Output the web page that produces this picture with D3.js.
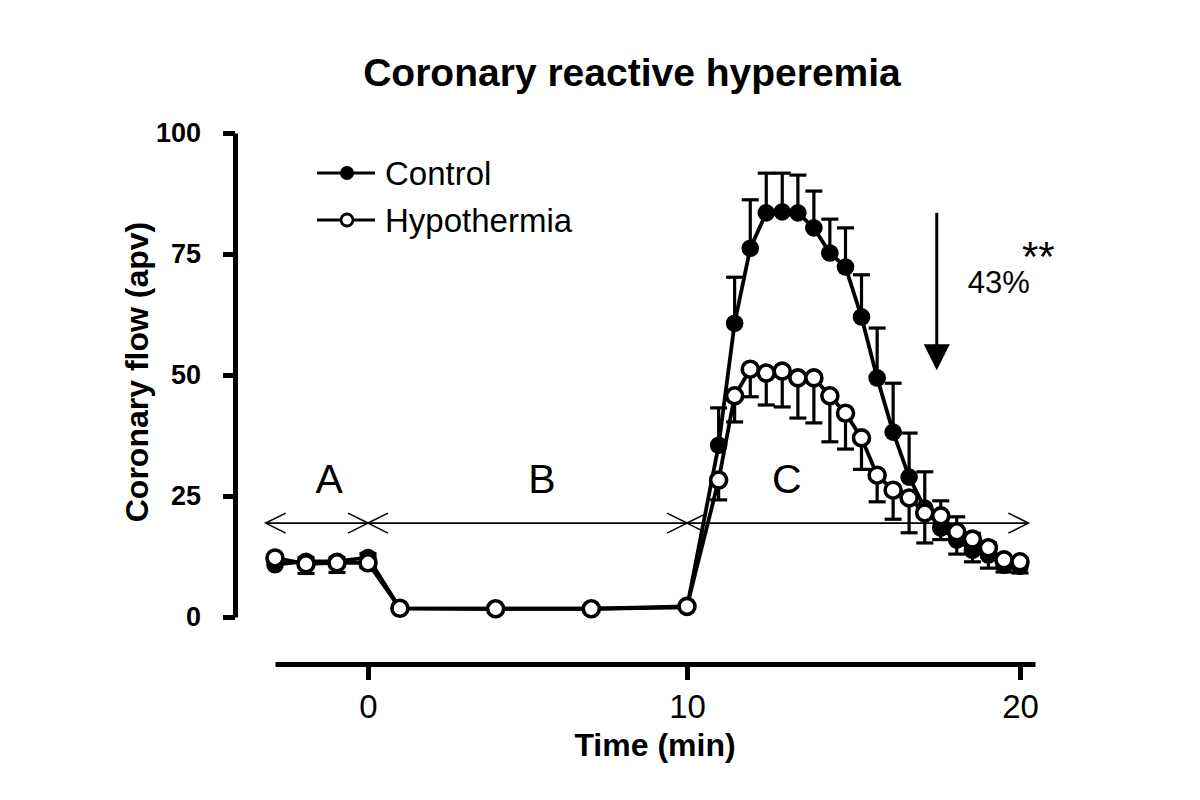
<!DOCTYPE html>
<html>
<head>
<meta charset="utf-8">
<script src="https://cdnjs.cloudflare.com/ajax/libs/d3/7.8.5/d3.min.js"></script>
<style>
  body { margin: 0; background: #fff; }
  svg { display: block; }
  .sans { font-family: 'Liberation Sans', Arial, sans-serif; }
  .narrow { font-family: 'Liberation Sans Narrow', 'Arial Narrow', 'Liberation Sans', sans-serif; font-stretch: condensed; }
</style>
</head>
<body>
<div id="chart"></div>
<script>
// time points (min): baseline, ischemia, reperfusion
const times = [-3, -2, -1, 0, 1, 4, 7, 10,
  10.95, 11.43, 11.90, 12.38, 12.86, 13.33, 13.81, 14.29, 14.76, 15.24,
  15.71, 16.19, 16.67, 17.14, 17.62, 18.10, 18.57, 19.05, 19.52, 20.00];

// coronary flow (apv), mean and SEM
const controlMean = [10.8, 11.5, 11.5, 12.3, 1.8, 1.7, 1.7, 2.0,
  35.5, 60.7, 76.2, 83.5, 83.7, 83.5, 80.4, 75.2, 72.3, 62.0,
  49.4, 38.2, 28.9, 22.5, 18.4, 15.9, 13.8, 12.8, 10.7, 10.5];
const controlSem = [0.8, 0.8, 0.8, 0.8, 0.3, 0.3, 0.3, 0.5,
  7.7, 9.5, 10.0, 8.2, 8.0, 7.8, 7.6, 7.0, 8.1, 8.7,
  10.3, 10.1, 9.1, 7.5, 5.6, 4.8, 3.5, 2.5, 1.5, 1.5];
const hypoMean = [12.2, 11.0, 11.2, 11.2, 1.8, 1.7, 1.7, 2.2,
  28.3, 45.7, 51.2, 50.4, 50.8, 49.4, 49.4, 45.7, 42.1, 37.0,
  29.3, 26.2, 24.6, 21.5, 20.9, 17.6, 16.1, 14.3, 11.8, 11.4];
const hypoSem = [0.8, 2.0, 2.0, 1.0, 0.3, 0.3, 0.3, 0.3,
  4.1, 5.4, 5.7, 6.6, 7.4, 8.3, 9.3, 9.5, 7.4, 6.5,
  5.5, 6.0, 7.2, 6.2, 4.9, 4.6, 4.7, 4.2, 2.5, 2.3];

// axes ticks
const xTicks = [0, 10, 20];
const yTicks = [0, 25, 50, 75, 100];

// protocol phases: A baseline, B ischemia, C reperfusion
const phaseBounds = [-3.3, 0, 10, 20.25];
const phaseNames = ['A', 'B', 'C'];
const phaseLabelAt = [-1.25, 5.45, 13.0];
const phaseLevel = 19.4;

// reduction annotation
const dropTime = 17.5;
const dropFrom = 83.5;
const dropTo = 51;
const dropText = '43%';

const width = 1200, height = 800;

const svg = d3.select('#chart').append('svg')
  .attr('width', width)
  .attr('height', height)
  .attr('class', 'sans');

// scales
const x = d3.scaleLinear()
  .domain([-3, 0, 10, 20.45])
  .range([275, 368, 687, 1035]);

const y = d3.scaleLinear()
  .domain([0, 100])
  .range([617, 133]);

// title
svg.append('text')
  .attr('x', 632).attr('y', 86)
  .attr('text-anchor', 'middle')
  .attr('font-size', 39).attr('font-weight', 'bold')
  .text('Coronary reactive hyperemia');

// y axis
const yAxis = svg.append('g')
  .attr('transform', 'translate(235,0)')
  .call(d3.axisLeft(y).tickValues(yTicks).tickSize(12).tickSizeOuter(0).tickPadding(22));
yAxis.select('.domain').attr('stroke-width', 5);
yAxis.selectAll('.tick line').attr('stroke-width', 5);
yAxis.selectAll('.tick text')
  .attr('font-size', 27).attr('font-weight', 'bold')
  .attr('font-family', "'Liberation Sans', Arial, sans-serif");

svg.append('text')
  .attr('transform', 'translate(148,372) rotate(-90)')
  .attr('text-anchor', 'middle')
  .attr('font-size', 32).attr('font-weight', 'bold')
  .text('Coronary flow (apv)');

// x axis
const xAxis = svg.append('g')
  .attr('transform', 'translate(0,664)')
  .call(d3.axisBottom(x).tickValues(xTicks).tickSize(16).tickSizeOuter(0).tickPadding(15));
xAxis.select('.domain').attr('stroke-width', 5);
xAxis.selectAll('.tick line').attr('stroke-width', 5);
xAxis.selectAll('.tick text')
  .attr('class', 'narrow')
  .attr('font-size', 33)
  .attr('font-family', null);

svg.append('text')
  .attr('class', 'narrow')
  .attr('x', 655).attr('y', 756)
  .attr('text-anchor', 'middle')
  .attr('font-size', 32).attr('font-weight', 'bold')
  .text('Time (min)');

// phase arrows
const head = 20, half = 10;
const phases = svg.append('g').attr('stroke', '#000').attr('stroke-width', 1.6).attr('fill', 'none');
const py = y(phaseLevel);
for (let i = 0; i < phaseNames.length; i++) {
  const x0 = x(phaseBounds[i]), x1 = x(phaseBounds[i + 1]);
  phases.append('line').attr('x1', x0).attr('x2', x1).attr('y1', py).attr('y2', py);
  phases.append('path').attr('d', `M${x0 + head},${py - half}L${x0},${py}L${x0 + head},${py + half}`);
  phases.append('path').attr('d', `M${x1 - head},${py - half}L${x1},${py}L${x1 - head},${py + half}`);
  svg.append('text')
    .attr('x', x(phaseLabelAt[i])).attr('y', y(phaseLevel) - 30)
    .attr('text-anchor', 'middle')
    .attr('font-size', 41)
    .text(phaseNames[i]);
}

// series
const control = times.map((t, i) => ({t: t, v: controlMean[i], e: controlSem[i]}));
const hypo = times.map((t, i) => ({t: t, v: hypoMean[i], e: hypoSem[i]}));

const line = d3.line().x(d => x(d.t)).y(d => y(d.v));

function drawSeries(data, dir, filled) {
  const g = svg.append('g');
  const bars = g.append('g').attr('stroke', '#000').attr('stroke-width', 3.2);
  bars.selectAll('line.bar').data(data).enter().append('line')
    .attr('class', 'bar')
    .attr('x1', d => x(d.t)).attr('x2', d => x(d.t))
    .attr('y1', d => y(d.v)).attr('y2', d => y(d.v + dir * d.e));
  bars.selectAll('line.cap').data(data).enter().append('line')
    .attr('class', 'cap')
    .attr('x1', d => x(d.t) - 8.5).attr('x2', d => x(d.t) + 8.5)
    .attr('y1', d => y(d.v + dir * d.e)).attr('y2', d => y(d.v + dir * d.e));
  g.append('path')
    .datum(data)
    .attr('fill', 'none')
    .attr('stroke', '#000')
    .attr('stroke-width', 3.8)
    .attr('d', line);
  g.selectAll('circle').data(data).enter().append('circle')
    .attr('cx', d => x(d.t)).attr('cy', d => y(d.v))
    .attr('r', filled ? 8.8 : 8)
    .attr('fill', filled ? '#000' : '#fff')
    .attr('stroke', '#000')
    .attr('stroke-width', filled ? 0 : 3.6);
}

drawSeries(control, 1, true);
drawSeries(hypo, -1, false);

// reduction arrow
const ax = x(dropTime);
svg.append('line')
  .attr('x1', ax).attr('x2', ax)
  .attr('y1', y(dropFrom)).attr('y2', y(dropTo) - 20)
  .attr('stroke', '#000').attr('stroke-width', 3);
svg.append('path')
  .attr('d', `M${ax - 13},${y(dropTo) - 26}L${ax + 13},${y(dropTo) - 26}L${ax},${y(dropTo)}Z`)
  .attr('fill', '#000');
svg.append('text')
  .attr('x', ax + 31).attr('y', 293)
  .attr('font-size', 31)
  .text(dropText);
svg.append('text')
  .attr('x', 1022).attr('y', 271)
  .attr('font-size', 42)
  .text('**');

// legend
const legend = svg.append('g').attr('transform', 'translate(317,0)');
const legendItems = [{name: 'Control', filled: true, y: 173}, {name: 'Hypothermia', filled: false, y: 220}];
legendItems.forEach(item => {
  legend.append('line')
    .attr('x1', 0).attr('x2', 58).attr('y1', item.y).attr('y2', item.y)
    .attr('stroke', '#000').attr('stroke-width', 3.2);
  legend.append('circle')
    .attr('cx', 30).attr('cy', item.y)
    .attr('r', item.filled ? 7 : 6)
    .attr('fill', item.filled ? '#000' : '#fff')
    .attr('stroke', '#000').attr('stroke-width', item.filled ? 0 : 2.8);
  legend.append('text')
    .attr('x', 68).attr('y', item.y + 12)
    .attr('font-size', 33)
    .text(item.name);
});
</script>
</body>
</html>
